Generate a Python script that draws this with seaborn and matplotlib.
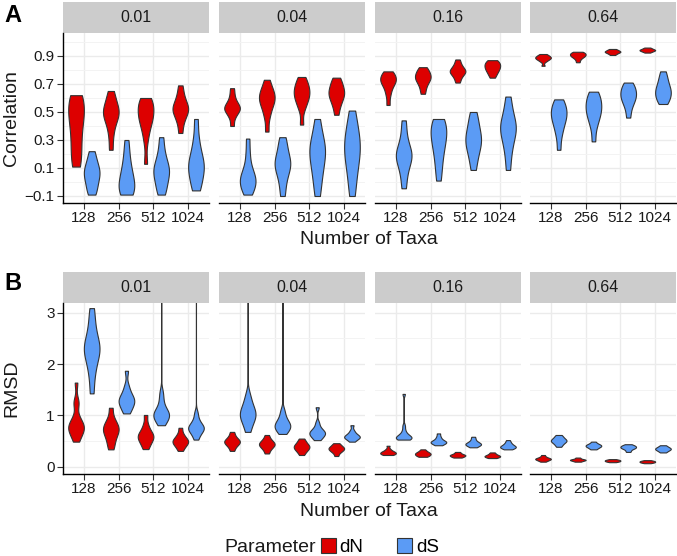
import numpy as np
import pandas as pd
import matplotlib
matplotlib.use("Agg")
import matplotlib.pyplot as plt
from matplotlib.patches import Rectangle, Patch
import seaborn as sns

# facets, categories and groups
rates = ["0.01", "0.04", "0.16", "0.64"]
taxa = ["128", "256", "512", "1024"]
params = ["dN", "dS"]
colors = {"dN": "#DD0000", "dS": "#5B9BF5"}

corr_ticks = [-0.1, 0.1, 0.3, 0.5, 0.7, 0.9]
corr_tick_labels = ["\u22120.1", "0.1", "0.3", "0.5", "0.7", "0.9"]
rmsd_ticks = [0, 1, 2, 3]
rmsd_tick_labels = ["0", "1", "2", "3"]

# values, one list per number of taxa (128, 256, 512, 1024)
corr_001_dN = [[0.11, 0.16, 0.22, 0.30, 0.37, 0.43, 0.48, 0.52, 0.56, 0.59, 0.62],
               [0.23, 0.33, 0.40, 0.44, 0.47, 0.49, 0.51, 0.53, 0.56, 0.60, 0.65],
               [0.13, 0.30, 0.38, 0.42, 0.45, 0.48, 0.50, 0.53, 0.56, 0.58, 0.60],
               [0.35, 0.42, 0.46, 0.49, 0.51, 0.52, 0.54, 0.56, 0.59, 0.63, 0.69]]
corr_001_dS = [[-0.09, -0.06, -0.02, 0.01, 0.04, 0.06, 0.08, 0.10, 0.13, 0.17, 0.22],
               [-0.09, -0.08, -0.06, -0.04, -0.01, 0.02, 0.05, 0.09, 0.14, 0.21, 0.30],
               [-0.09, -0.05, -0.01, 0.03, 0.06, 0.08, 0.10, 0.13, 0.17, 0.23, 0.32],
               [-0.06, -0.02, 0.03, 0.07, 0.10, 0.12, 0.15, 0.19, 0.24, 0.32, 0.45]]
corr_004_dN = [[0.40, 0.46, 0.49, 0.51, 0.52, 0.53, 0.54, 0.56, 0.58, 0.62, 0.67],
               [0.36, 0.46, 0.51, 0.55, 0.57, 0.59, 0.61, 0.63, 0.65, 0.68, 0.73],
               [0.41, 0.52, 0.56, 0.59, 0.61, 0.63, 0.65, 0.67, 0.69, 0.72, 0.75],
               [0.48, 0.54, 0.57, 0.60, 0.62, 0.63, 0.65, 0.67, 0.69, 0.72, 0.745]]
corr_004_dS = [[-0.09, -0.06, -0.03, -0.01, 0.01, 0.03, 0.05, 0.08, 0.13, 0.21, 0.31],
               [-0.10, -0.02, 0.04, 0.08, 0.11, 0.13, 0.15, 0.18, 0.22, 0.27, 0.32],
               [-0.10, -0.01, 0.06, 0.11, 0.16, 0.20, 0.23, 0.26, 0.30, 0.36, 0.45],
               [-0.10, 0.00, 0.08, 0.14, 0.19, 0.23, 0.27, 0.31, 0.36, 0.42, 0.51]]
corr_016_dN = [[0.55, 0.62, 0.66, 0.69, 0.71, 0.72, 0.73, 0.745, 0.76, 0.775, 0.79],
               [0.63, 0.67, 0.70, 0.72, 0.735, 0.745, 0.755, 0.77, 0.785, 0.80, 0.82],
               [0.71, 0.74, 0.76, 0.775, 0.785, 0.79, 0.80, 0.81, 0.825, 0.845, 0.875],
               [0.745, 0.77, 0.785, 0.80, 0.81, 0.82, 0.83, 0.84, 0.85, 0.86, 0.87]]
corr_016_dS = [[-0.045, 0.04, 0.10, 0.14, 0.17, 0.19, 0.21, 0.24, 0.28, 0.35, 0.44],
               [0.01, 0.10, 0.17, 0.23, 0.27, 0.31, 0.34, 0.37, 0.40, 0.43, 0.45],
               [0.086, 0.16, 0.21, 0.25, 0.28, 0.30, 0.33, 0.36, 0.40, 0.45, 0.50],
               [0.086, 0.19, 0.26, 0.31, 0.35, 0.38, 0.40, 0.43, 0.47, 0.53, 0.61]]
corr_064_dN = [[0.83, 0.86, 0.87, 0.877, 0.882, 0.886, 0.89, 0.894, 0.90, 0.906, 0.914],
               [0.855, 0.875, 0.888, 0.895, 0.90, 0.905, 0.91, 0.915, 0.92, 0.925, 0.93],
               [0.907, 0.915, 0.92, 0.925, 0.928, 0.93, 0.933, 0.936, 0.94, 0.945, 0.95],
               [0.924, 0.93, 0.934, 0.937, 0.94, 0.942, 0.944, 0.947, 0.95, 0.955, 0.96]]
corr_064_dS = [[0.23, 0.33, 0.38, 0.42, 0.45, 0.47, 0.49, 0.51, 0.54, 0.56, 0.59],
               [0.29, 0.39, 0.44, 0.47, 0.50, 0.52, 0.54, 0.57, 0.59, 0.62, 0.645],
               [0.46, 0.52, 0.56, 0.58, 0.60, 0.62, 0.63, 0.65, 0.67, 0.69, 0.71],
               [0.557, 0.58, 0.60, 0.62, 0.64, 0.65, 0.67, 0.69, 0.72, 0.75, 0.79]]

rmsd_001_dN = [[0.49, 0.58, 0.65, 0.70, 0.74, 0.77, 0.80, 0.84, 0.90, 0.98, 1.22, 1.28, 1.64],
               [0.34, 0.45, 0.55, 0.62, 0.68, 0.72, 0.76, 0.80, 0.86, 0.95, 1.15],
               [0.345, 0.43, 0.49, 0.53, 0.57, 0.60, 0.63, 0.67, 0.73, 0.83, 1.01],
               [0.31, 0.38, 0.42, 0.45, 0.48, 0.50, 0.52, 0.55, 0.59, 0.65, 0.76]]
rmsd_001_dS = [[1.43, 1.75, 1.95, 2.10, 2.20, 2.27, 2.33, 2.40, 2.50, 2.65, 2.85, 3.09],
               [1.04, 1.12, 1.18, 1.23, 1.27, 1.30, 1.34, 1.39, 1.46, 1.58, 1.87],
               [0.81, 0.88, 0.93, 0.97, 1.00, 1.03, 1.06, 1.10, 1.17, 1.30, 1.45, 3.80],
               [0.53, 0.62, 0.67, 0.71, 0.74, 0.76, 0.78, 0.81, 0.86, 0.93, 1.05, 3.80]]
rmsd_004_dN = [[0.31, 0.38, 0.42, 0.45, 0.47, 0.49, 0.51, 0.53, 0.56, 0.61, 0.68],
               [0.26, 0.33, 0.37, 0.40, 0.42, 0.44, 0.46, 0.48, 0.51, 0.55, 0.62],
               [0.23, 0.29, 0.32, 0.35, 0.37, 0.39, 0.41, 0.43, 0.46, 0.50, 0.55],
               [0.21, 0.27, 0.30, 0.32, 0.34, 0.35, 0.37, 0.38, 0.40, 0.43, 0.46]]
rmsd_004_dS = [[0.68, 0.82, 0.90, 0.96, 1.01, 1.05, 1.10, 1.17, 1.26, 1.40, 3.80],
               [0.64, 0.70, 0.74, 0.77, 0.80, 0.83, 0.86, 0.91, 0.99, 1.10, 3.80],
               [0.52, 0.57, 0.60, 0.63, 0.65, 0.67, 0.69, 0.72, 0.77, 0.86, 1.16],
               [0.49, 0.53, 0.55, 0.57, 0.58, 0.59, 0.61, 0.63, 0.66, 0.71, 0.81]]
rmsd_016_dN = [[0.23, 0.24, 0.25, 0.26, 0.27, 0.28, 0.29, 0.30, 0.32, 0.35, 0.41],
               [0.195, 0.21, 0.22, 0.235, 0.245, 0.255, 0.265, 0.275, 0.29, 0.31, 0.34],
               [0.18, 0.19, 0.20, 0.21, 0.22, 0.225, 0.23, 0.24, 0.25, 0.27, 0.29],
               [0.17, 0.18, 0.19, 0.20, 0.205, 0.21, 0.22, 0.23, 0.24, 0.26, 0.28]]
rmsd_016_dS = [[0.53, 0.54, 0.55, 0.56, 0.57, 0.58, 0.60, 0.62, 0.65, 0.71, 0.80, 1.42],
               [0.42, 0.44, 0.46, 0.47, 0.48, 0.49, 0.50, 0.52, 0.55, 0.59, 0.65],
               [0.38, 0.40, 0.42, 0.43, 0.44, 0.45, 0.46, 0.48, 0.50, 0.54, 0.585],
               [0.34, 0.36, 0.37, 0.38, 0.39, 0.40, 0.41, 0.43, 0.45, 0.48, 0.52]]
rmsd_064_dN = [[0.10, 0.12, 0.13, 0.14, 0.15, 0.155, 0.16, 0.17, 0.18, 0.20, 0.23],
               [0.10, 0.11, 0.12, 0.125, 0.13, 0.135, 0.14, 0.145, 0.15, 0.165, 0.18],
               [0.09, 0.10, 0.105, 0.11, 0.115, 0.12, 0.125, 0.13, 0.135, 0.14, 0.15],
               [0.07, 0.08, 0.085, 0.09, 0.095, 0.10, 0.105, 0.11, 0.115, 0.12, 0.13]]
rmsd_064_dS = [[0.39, 0.43, 0.46, 0.48, 0.50, 0.51, 0.52, 0.54, 0.56, 0.59, 0.62],
               [0.34, 0.36, 0.38, 0.39, 0.40, 0.41, 0.42, 0.43, 0.44, 0.46, 0.49],
               [0.29, 0.32, 0.35, 0.36, 0.37, 0.38, 0.39, 0.40, 0.41, 0.42, 0.44],
               [0.28, 0.30, 0.32, 0.33, 0.34, 0.35, 0.36, 0.37, 0.38, 0.40, 0.42]]

W, H = 677, 556


def nrd0(kde):
    """R's bw.nrd0 rule (what ggplot's geom_violin uses), as a scipy factor"""
    x = kde.dataset[0]
    sd = x.std(ddof=1)
    iqr = np.subtract(*np.percentile(x, [75, 25]))
    lo = min(sd, iqr / 1.34) if iqr > 0 else sd
    return 0.9 * lo * len(x) ** -0.2 / sd


def build_frame():
    table = {
        ("Correlation", "0.01"): (corr_001_dN, corr_001_dS),
        ("Correlation", "0.04"): (corr_004_dN, corr_004_dS),
        ("Correlation", "0.16"): (corr_016_dN, corr_016_dS),
        ("Correlation", "0.64"): (corr_064_dN, corr_064_dS),
        ("RMSD", "0.01"): (rmsd_001_dN, rmsd_001_dS),
        ("RMSD", "0.04"): (rmsd_004_dN, rmsd_004_dS),
        ("RMSD", "0.16"): (rmsd_016_dN, rmsd_016_dS),
        ("RMSD", "0.64"): (rmsd_064_dN, rmsd_064_dS),
    }
    rows = []
    for (metric, rate), groups in table.items():
        for param, per_taxa in zip(params, groups):
            for n, vals in zip(taxa, per_taxa):
                for v in vals:
                    rows.append((metric, rate, n, param, v))
    return pd.DataFrame(rows, columns=["metric", "rate", "taxa", "param", "value"])


def px_axes(fig, x0, y0, w, h):
    return fig.add_axes([x0 / W, 1 - (y0 + h) / H, w / W, h / H])


def style_panel(ax, rate, first, ylim, ticks, labels, minor):
    ax.set_xlim(-0.6, 3.6)
    ax.set_ylim(*ylim)
    ax.set_yticks(ticks)
    ax.set_yticklabels(labels)
    ax.set_yticks(minor, minor=True)
    ax.set_xlabel("")
    ax.set_ylabel("")
    ax.set_axisbelow(True)
    ax.grid(which="major", color="#EBEBEB", lw=1.0)
    ax.grid(which="minor", axis="y", color="#F3F3F3", lw=0.7)
    for s in ["top", "right"]:
        ax.spines[s].set_visible(False)
    ax.spines["bottom"].set_color("black")
    ax.spines["bottom"].set_linewidth(1.0)
    ax.spines["left"].set_color("black")
    ax.spines["left"].set_linewidth(1.0)
    ax.tick_params(axis="both", length=4, width=0.8, color="#333333",
                   labelsize=11, labelcolor="#1A1A1A", pad=2)
    ax.tick_params(which="minor", length=0)
    if not first:
        ax.spines["left"].set_visible(False)
        ax.tick_params(axis="y", which="both", left=False, labelleft=False)
    # facet strip
    strip_h = 31 / (ax.get_position().height * H)
    ax.add_patch(Rectangle((0, 1), 1, strip_h, transform=ax.transAxes,
                           facecolor="#CCCCCC", edgecolor="none", clip_on=False))
    ax.text(0.5, 1 + strip_h / 2, rate, transform=ax.transAxes, ha="center",
            va="center", fontsize=11.5, color="#1A1A1A")


def main():
    df = build_frame()
    plt.rcParams['font.family'] = ['Liberation Sans', 'DejaVu Sans']
    fig = plt.figure(figsize=(W / 100, H / 100), dpi=100)

    lefts = [63, 219, 375, 530]
    rows = [("Correlation", 33, 170, (-0.15, 1.064), corr_ticks, corr_tick_labels,
             [0.0, 0.2, 0.4, 0.6, 0.8, 1.0]),
            ("RMSD", 303, 171, (-0.14, 3.19), rmsd_ticks, rmsd_tick_labels,
             [0.5, 1.5, 2.5])]

    for metric, top, height, ylim, ticks, labels, minor in rows:
        for i, rate in enumerate(rates):
            ax = px_axes(fig, lefts[i], top, 146, height)
            sub = df[(df.metric == metric) & (df.rate == rate)]
            sns.violinplot(data=sub, x="taxa", y="value", hue="param", order=taxa,
                           hue_order=params, palette=colors, saturation=1,
                           density_norm="width", cut=0, inner=None, width=0.9,
                           linewidth=0.8, linecolor="#333333", bw_method=nrd0,
                           gridsize=300, legend=False, ax=ax)
            style_panel(ax, rate, i == 0, ylim, ticks, labels, minor)
        fig.text(12 / W, 1 - (top + height / 2) / H, metric, rotation=90,
                 ha="center", va="center", fontsize=14, color="#1A1A1A")
        fig.text(369 / W, 1 - (top + height + 37) / H, "Number of Taxa",
                 ha="center", va="center", fontsize=14, color="#1A1A1A")

    fig.text(4 / W, 1 - 16 / H, "A", fontsize=17, fontweight="bold", va="center")
    fig.text(4 / W, 1 - 284 / H, "B", fontsize=17, fontweight="bold", va="center")

    # legend at the bottom, title on the left like ggplot
    handles = [Patch(facecolor=colors[p], edgecolor="#333333", linewidth=0.8) for p in params]
    fig.legend(handles, params, loc="center left", bbox_to_anchor=(321 / W, 1 - 547 / H),
               ncol=2, frameon=False, fontsize=13.5, handlelength=0.8, handleheight=0.8,
               handletextpad=0.2, columnspacing=1.8, borderaxespad=0, borderpad=0)
    fig.text(316 / W, 1 - 547 / H, "Parameter", ha="right", va="center", fontsize=14,
             color="#1A1A1A")

    fig.savefig("out.png", dpi=100)
    plt.close(fig)


if __name__ == "__main__":
    main()
